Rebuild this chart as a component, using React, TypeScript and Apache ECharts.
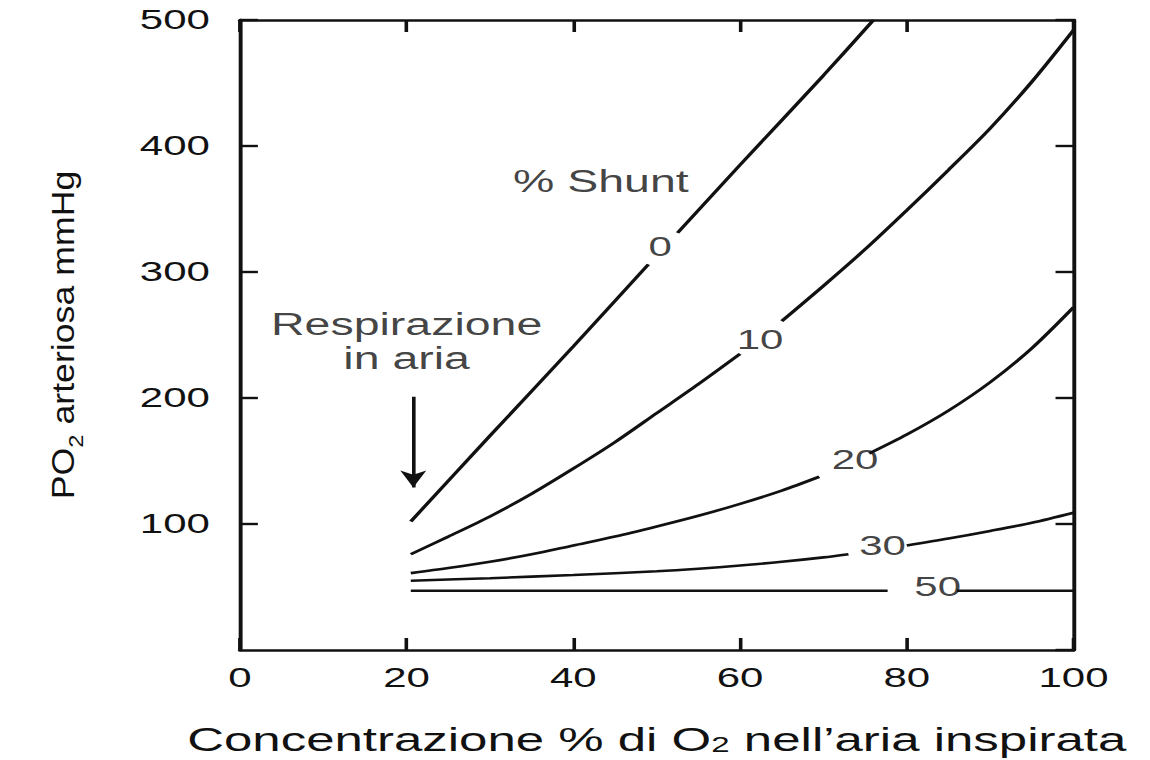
import React, { useEffect, useRef } from "react";
import * as echarts from "echarts";

// ---- data ----
const xTicks = [0, 20, 40, 60, 80, 100];
const yTicks = [0, 100, 200, 300, 400, 500];

const G = "-"; // gap where the curve label sits
const shunt0: any[] = [[20.5, 102], [30, 170], [40, 241], [49, 306], [50.7, G], [52.5, 331], [60, 385], [70, 456], [76, 500]];
const shunt10: any[] = [[20.5, 76], [25, 90], [30, 106], [35, 124], [40, 144], [45, 165], [50, 188], [55, 211], [60, 235], [62.5, G], [65, 261], [70, 289], [75, 318], [80, 349], [85, 381], [90, 414], [95, 451], [100, 492]];
const shunt20: any[] = [[20.5, 61], [25, 65], [30, 70], [35, 76], [40, 83], [45, 90], [50, 98], [55, 106.5], [60, 116], [65, 126.5], [69.5, 137.5], [72.5, G], [75.5, 156], [80, 171], [85, 190], [90, 212.5], [95, 239.5], [100, 272]];
const shunt30: any[] = [[20.5, 55], [30, 57], [40, 59.5], [50, 62.5], [55, 64.5], [60, 67], [65, 70], [70, 73.5], [73, 76], [76.5, G], [80, 83], [85, 88.5], [90, 94.5], [95, 101], [100, 109]];
const shunt50: any[] = [[20.5, 47], [40, 47], [60, 47], [77.7, 47], [82, G], [86, 47], [100, 47]];

const curveLabels: [string, number, number][] = [
  ["0", 50.4, 320],
  ["10", 62.4, 246],
  ["20", 73.8, 151],
  ["30", 77.1, 83],
  ["50", 83.7, 50],
];
const notes: [string, number, number][] = [
  ["% Shunt", 43.3, 372],
  ["Respirazione\nin aria", 20.0, 245],
];
const arrowX = 20.8;
const arrowFrom = 201;
const arrowTo = 129;

// ---- layout ----
const S = 1.5; // horizontal stretch of the reference picture
const W = Math.round(1150 / S);
const H = 760;
const FONT = '"Liberation Sans", Arial, Helvetica, sans-serif';
const INK = "#111111";

function curve(data: any[]) {
  return {
    type: "line",
    data,
    smooth: 0.3,
    connectNulls: false,
    showSymbol: false,
    symbol: "none",
    silent: true,
    clip: true,
    lineStyle: { color: INK, width: 2.6 },
    z: 3,
  };
}

const axisCommon = {
  type: "value",
  axisLine: { show: true, onZero: false, lineStyle: { color: INK, width: 2.6 } },
  axisTick: { show: true, inside: true, length: 12, lineStyle: { color: INK, width: 2.4 } },
  splitLine: { show: false },
};

export default function App() {
  const ref = useRef<HTMLDivElement>(null);
  useEffect(() => {
    const chart = echarts.init(ref.current!, null, { renderer: "svg" });
    const option: any = {
      animation: false,
      backgroundColor: "#ffffff",
      grid: { left: 160, right: 51, top: 20, bottom: 110, containLabel: false, outerBoundsMode: "none" },
      xAxis: [
        {
          ...axisCommon,
          position: "bottom",
          min: xTicks[0],
          max: xTicks[xTicks.length - 1],
          interval: xTicks[1] - xTicks[0],
          axisLabel: { show: true, margin: 14, fontSize: 28, fontFamily: FONT, color: INK },
          name: "Concentrazione % di O{s|2} nell’aria inspirata",
          nameLocation: "middle",
          nameGap: 75,
          nameTextStyle: {
            fontSize: 34,
            lineHeight: 28,
            fontFamily: FONT,
            color: INK,
            rich: {
              s: { fontSize: 22, fontFamily: FONT, color: INK, lineHeight: 16, padding: [12, 0, 0, 0] },
            },
          },
        },
        {
          ...axisCommon,
          position: "top",
          min: xTicks[0],
          max: xTicks[xTicks.length - 1],
          interval: xTicks[1] - xTicks[0],
          axisLabel: { show: false },
        },
      ],
      yAxis: [
        {
          ...axisCommon,
          position: "left",
          min: yTicks[0],
          max: yTicks[yTicks.length - 1],
          interval: yTicks[1] - yTicks[0],
          axisLabel: { show: true, showMinLabel: false, margin: 20, fontSize: 28, fontFamily: FONT, color: INK },
        },
        {
          ...axisCommon,
          position: "right",
          min: yTicks[0],
          max: yTicks[yTicks.length - 1],
          interval: yTicks[1] - yTicks[0],
          axisLabel: { show: false },
        },
      ],
      graphic: [
        {
          type: "text",
          x: 42,
          y: 335,
          rotation: Math.PI / 2,
          scaleX: 1.7,
          style: {
            text: "PO{s|2} arteriosa mmHg",
            font: `21px ${FONT}`,
            fill: INK,
            align: "center",
            verticalAlign: "middle",
            rich: {
              s: { fontSize: 14, fontFamily: FONT, fill: INK, verticalAlign: "bottom", lineHeight: 14, padding: [0, 0, -5, 0] },
            },
          },
        },
      ],
      series: [
        curve(shunt0),
        curve(shunt10),
        curve(shunt20),
        curve(shunt30),
        curve(shunt50),
        {
          type: "scatter",
          symbolSize: 0,
          silent: true,
          z: 5,
          data: curveLabels.map(([t, x, y]) => ({ name: t, value: [x, y] })),
          label: { show: true, position: "inside", formatter: "{b}", fontSize: 28, fontFamily: FONT, color: INK },
        },
        {
          type: "scatter",
          symbolSize: 0,
          silent: true,
          z: 5,
          data: notes.map(([t, x, y]) => ({ name: t, value: [x, y] })),
          label: { show: true, position: "inside", formatter: "{b}", fontSize: 31, lineHeight: 34, fontFamily: FONT, color: INK, align: "center" },
          markLine: {
            silent: true,
            symbol: ["none", "arrow"],
            symbolSize: [13, 17],
            label: { show: false },
            lineStyle: { color: INK, width: 2.4, type: "solid" },
            data: [[{ coord: [arrowX, arrowFrom] }, { coord: [arrowX, arrowTo] }]],
          },
        },
      ],
    };
    chart.setOption(option);
    return () => chart.dispose();
  }, []);
  return (
    <div style={{ position: "fixed", left: 0, top: 0, width: 1150, height: H, overflow: "hidden", background: "#fff" }}>
      <div ref={ref} style={{ width: W, height: H, transform: `scaleX(${1150 / W})`, transformOrigin: "0 0" }} />
    </div>
  );
}
